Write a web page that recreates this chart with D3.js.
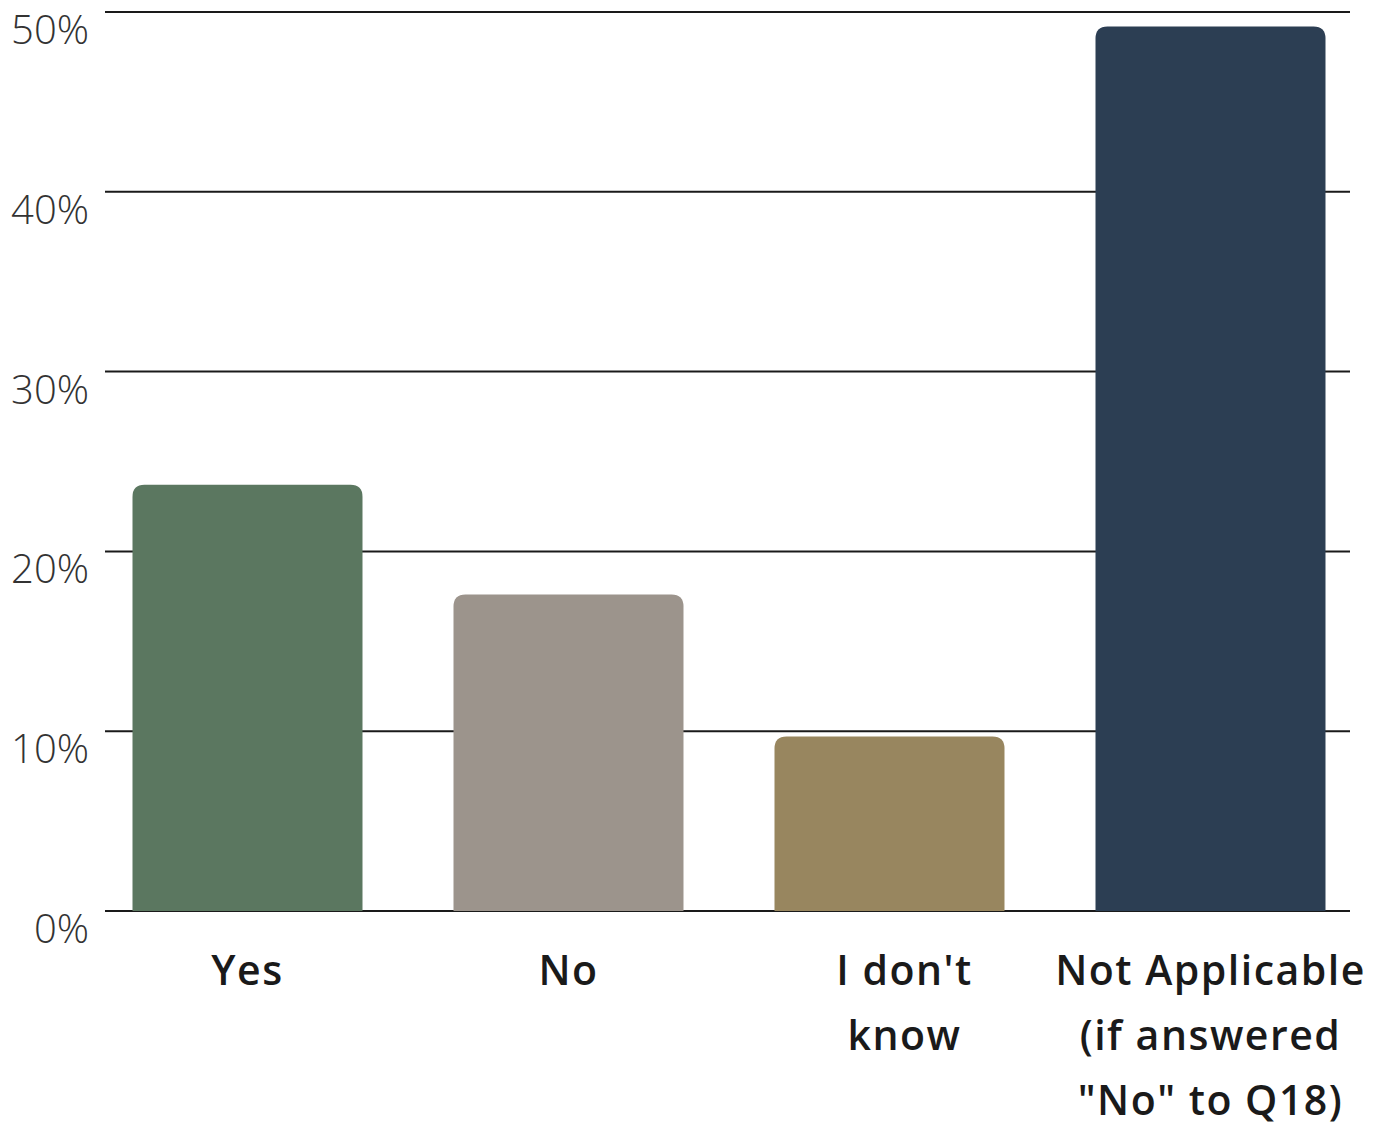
<!DOCTYPE html>
<html>
<head>
<meta charset="utf-8">
<script src="https://cdn.jsdelivr.net/npm/d3@7"></script>
<style>
  html, body { margin: 0; padding: 0; background: #ffffff; }
  svg { display: block; }
</style>
</head>
<body>
<svg id="chart" width="1379" height="1128"></svg>
<script>
const categories = ["Yes", "No", "I don't know", "Not Applicable (if answered \"No\" to Q18)"];
const categoryLines = [["Yes"], ["No"], ["I don't", "know"], ["Not Applicable", "(if answered", "\"No\" to Q18)"]];
const values = [23.7, 17.6, 9.7, 49.2];
const colors = ["#5b7760", "#9c948c", "#98865f", "#2c3e53"];
const yTicks = [0, 10, 20, 30, 40, 50];
const yTickLabels = ["0%", "10%", "20%", "30%", "40%", "50%"];

const svg = d3.select("#chart");
const y0 = 911, y50 = 12;
const y = d3.scaleLinear().domain([0, 50]).range([y0, y50]);
const x = d3.scaleBand().domain(categories).range([87, 1371]).paddingInner(0.2835).paddingOuter(0.14175);

// gridlines
const grid = svg.append("g");
grid.selectAll("line").data(yTicks).join("line")
  .attr("x1", 105).attr("x2", 1350)
  .attr("y1", d => y(d)).attr("y2", d => y(d))
  .attr("stroke", "#1a1a1a").attr("stroke-width", 2);

// tick labels
svg.append("g").selectAll("text").data(yTicks).join("text")
  .attr("x", 89).attr("y", d => y(d) + 32)
  .attr("text-anchor", "end")
  .attr("font-family", "'Open Sans', sans-serif")
  .attr("font-weight", 300)
  .attr("font-size", 40)
  .attr("fill", "#333")
  .text((d, i) => yTickLabels[i]);

// bars with rounded top corners
const r = 12;
function barPath(x0, w, yt, yb) {
  const rr = Math.min(r, (yb - yt));
  return `M${x0},${yb}V${yt + rr}Q${x0},${yt} ${x0 + rr},${yt}H${x0 + w - rr}Q${x0 + w},${yt} ${x0 + w},${yt + rr}V${yb}Z`;
}
svg.append("g").selectAll("path").data(categories).join("path")
  .attr("d", (c, i) => barPath(x(c), x.bandwidth(), y(values[i]), y(0)))
  .attr("fill", (c, i) => colors[i]);

// category labels
const lab = svg.append("g");
categories.forEach((c, i) => {
  const t = lab.append("text")
    .attr("text-anchor", "middle")
    .attr("font-family", "'Open Sans', sans-serif")
    .attr("font-weight", 600)
    .attr("font-size", 41)
    .attr("letter-spacing", 1.5)
    .attr("fill", "#1a1a1a");
  const cx = x(c) + x.bandwidth() / 2 + (i === 2 ? 15 : 0);
  categoryLines[i].forEach((ln, j) => {
    t.append("tspan").attr("x", cx).attr("y", 985 + j * 65).text(ln);
  });
});
</script>
</body>
</html>
